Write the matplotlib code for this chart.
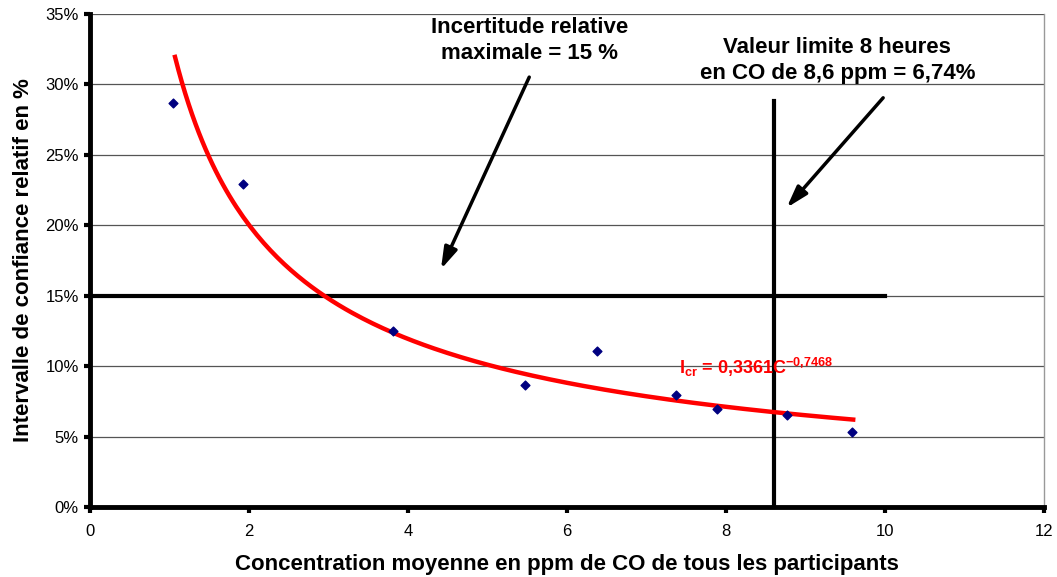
import numpy as np
import matplotlib.pyplot as plt
from matplotlib.ticker import FuncFormatter

plt.rcParams['font.family'] = ['Liberation Sans', 'DejaVu Sans']
plt.rcParams['mathtext.fontset'] = 'custom'
plt.rcParams['mathtext.rm'] = 'Liberation Sans'
plt.rcParams['mathtext.bf'] = 'Liberation Sans:bold'

# measured points (ppm CO, relative confidence interval in %)
conc = [1.05, 1.92, 3.81, 5.47, 6.38, 7.37, 7.89, 8.77, 9.58]
icr = [28.7, 22.9, 12.5, 8.65, 11.05, 7.95, 6.95, 6.5, 5.3]

# power trendline shown on chart: Icr = 0.3361 * C^-0.7468
coef_a = 0.3361
coef_b = -0.7468
fit_range = [1.07, 9.6]

limit_ppm = 8.6
limit_top = 28.8
max_unc = 15
max_unc_end = 10

fig = plt.figure(figsize=(10.57, 5.77), dpi=100)
ax = fig.add_axes([0.0851, 0.1213, 0.9026, 0.8544])

xf = np.linspace(fit_range[0], fit_range[1], 200)
ax.plot(xf, coef_a * xf ** coef_b * 100, color='#ff0000', lw=3.2, zorder=4)
ax.scatter(conc, icr, marker='D', s=20, color='#000080', zorder=5)

ax.plot([0, max_unc_end], [max_unc, max_unc], color='black', lw=3, zorder=3)
ax.plot([limit_ppm, limit_ppm], [0, limit_top], color='black', lw=3, zorder=3)

ax.set_xlim(0, 12)
ax.set_ylim(0, 35)
ax.set_xticks(range(0, 13, 2))
ax.set_yticks(range(0, 36, 5))
ax.yaxis.set_major_formatter(FuncFormatter(lambda v, p: f'{int(v)}%'))
ax.grid(axis='y', color='#555555', lw=0.9)
ax.set_axisbelow(True)

ax.spines['top'].set_visible(False)
ax.spines['right'].set_color('#999999')
ax.spines['right'].set_linewidth(1)
ax.spines['left'].set_linewidth(3.5)
ax.spines['bottom'].set_linewidth(3.5)
ax.tick_params(axis='both', direction='out', length=4, width=3, labelsize=12, pad=4)
ax.tick_params(axis='x', pad=8)

ax.set_xlabel('Concentration moyenne en ppm de CO de tous les participants',
              fontsize=16, fontweight='bold', labelpad=11)
ax.set_ylabel('Intervalle de confiance relatif en %', fontsize=16,
              fontweight='bold', labelpad=8)

ax.annotate('', xy=(4.4, 16.7), xytext=(5.54, 30.7),
            arrowprops=dict(arrowstyle='-|>,head_length=1.3,head_width=0.4',
                            color='black', lw=2.5))
ax.annotate('', xy=(8.74, 21.1), xytext=(10.0, 29.2),
            arrowprops=dict(arrowstyle='-|>,head_length=1.3,head_width=0.4',
                            color='black', lw=2.5))

ax.text(5.53, 33.1, 'Incertitude relative\nmaximale = 15 %', ha='center',
        va='center', fontsize=16, fontweight='bold', linespacing=1.3)
ax.text(9.4, 31.7, 'Valeur limite 8 heures\nen CO de 8,6 ppm = 6,74%',
        ha='center', va='center', fontsize=16, fontweight='bold',
        linespacing=1.3)
ax.text(7.41, 9.9, r'$\mathbf{I_{cr}}$ = 0,3361C$^{\mathbf{-0{,}7468}}$',
        color='#ff0000', fontsize=13, fontweight='bold', va='center')

fig.savefig('out.png', dpi=100)
